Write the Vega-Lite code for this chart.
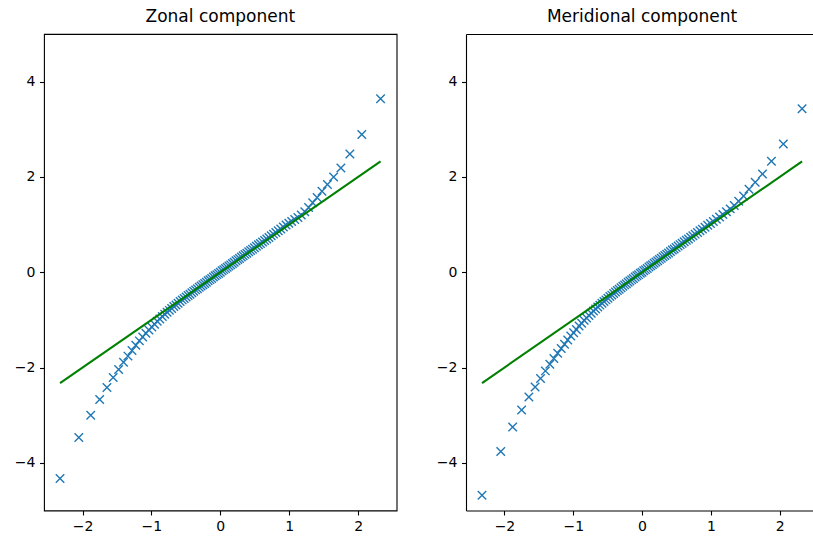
{
  "$schema": "https://vega.github.io/schema/vega-lite/v6.json",
  "background": "white",
  "padding": {"left": 13, "top": 6, "right": 0, "bottom": 0},
  "spacing": 38,
  "datasets": {
    "qq": [
      {"q": -2.3263, "zonal": -4.33, "meridional": -4.68},
      {"q": -2.0537, "zonal": -3.47, "meridional": -3.76},
      {"q": -1.8808, "zonal": -3.00, "meridional": -3.25},
      {"q": -1.7507, "zonal": -2.67, "meridional": -2.89},
      {"q": -1.6449, "zonal": -2.42, "meridional": -2.62},
      {"q": -1.5548, "zonal": -2.21, "meridional": -2.41},
      {"q": -1.4758, "zonal": -2.04, "meridional": -2.23},
      {"q": -1.4051, "zonal": -1.89, "meridional": -2.07},
      {"q": -1.3408, "zonal": -1.76, "meridional": -1.93},
      {"q": -1.2816, "zonal": -1.64, "meridional": -1.81},
      {"q": -1.2265, "zonal": -1.53, "meridional": -1.70},
      {"q": -1.1750, "zonal": -1.44, "meridional": -1.60},
      {"q": -1.1264, "zonal": -1.36, "meridional": -1.51},
      {"q": -1.0803, "zonal": -1.28, "meridional": -1.42},
      {"q": -1.0364, "zonal": -1.21, "meridional": -1.34},
      {"q": -0.9945, "zonal": -1.15, "meridional": -1.27},
      {"q": -0.9542, "zonal": -1.09, "meridional": -1.20},
      {"q": -0.9154, "zonal": -1.03, "meridional": -1.13},
      {"q": -0.8779, "zonal": -0.98, "meridional": -1.07},
      {"q": -0.8416, "zonal": -0.93, "meridional": -1.01},
      {"q": -0.8064, "zonal": -0.88, "meridional": -0.96},
      {"q": -0.7722, "zonal": -0.84, "meridional": -0.91},
      {"q": -0.7388, "zonal": -0.80, "meridional": -0.86},
      {"q": -0.7063, "zonal": -0.76, "meridional": -0.815},
      {"q": -0.6745, "zonal": -0.72, "meridional": -0.77},
      {"q": -0.6433, "zonal": -0.685, "meridional": -0.73},
      {"q": -0.6128, "zonal": -0.65, "meridional": -0.69},
      {"q": -0.5828, "zonal": -0.615, "meridional": -0.65},
      {"q": -0.5534, "zonal": -0.58, "meridional": -0.615},
      {"q": -0.5244, "zonal": -0.55, "meridional": -0.58},
      {"q": -0.4959, "zonal": -0.52, "meridional": -0.545},
      {"q": -0.4677, "zonal": -0.49, "meridional": -0.51},
      {"q": -0.4399, "zonal": -0.46, "meridional": -0.48},
      {"q": -0.4125, "zonal": -0.43, "meridional": -0.445},
      {"q": -0.3853, "zonal": -0.40, "meridional": -0.415},
      {"q": -0.3585, "zonal": -0.37, "meridional": -0.385},
      {"q": -0.3319, "zonal": -0.345, "meridional": -0.355},
      {"q": -0.3055, "zonal": -0.315, "meridional": -0.325},
      {"q": -0.2793, "zonal": -0.29, "meridional": -0.295},
      {"q": -0.2533, "zonal": -0.26, "meridional": -0.265},
      {"q": -0.2275, "zonal": -0.235, "meridional": -0.24},
      {"q": -0.2019, "zonal": -0.21, "meridional": -0.21},
      {"q": -0.1764, "zonal": -0.18, "meridional": -0.185},
      {"q": -0.1510, "zonal": -0.155, "meridional": -0.155},
      {"q": -0.1257, "zonal": -0.13, "meridional": -0.13},
      {"q": -0.1004, "zonal": -0.10, "meridional": -0.10},
      {"q": -0.0753, "zonal": -0.075, "meridional": -0.075},
      {"q": -0.0502, "zonal": -0.05, "meridional": -0.05},
      {"q": -0.0251, "zonal": -0.025, "meridional": -0.02},
      {"q": 0.0, "zonal": 0.0, "meridional": 0.0},
      {"q": 0.0251, "zonal": 0.03, "meridional": 0.03},
      {"q": 0.0502, "zonal": 0.055, "meridional": 0.055},
      {"q": 0.0753, "zonal": 0.08, "meridional": 0.08},
      {"q": 0.1004, "zonal": 0.105, "meridional": 0.11},
      {"q": 0.1257, "zonal": 0.13, "meridional": 0.135},
      {"q": 0.1510, "zonal": 0.155, "meridional": 0.16},
      {"q": 0.1764, "zonal": 0.185, "meridional": 0.19},
      {"q": 0.2019, "zonal": 0.21, "meridional": 0.215},
      {"q": 0.2275, "zonal": 0.24, "meridional": 0.24},
      {"q": 0.2533, "zonal": 0.265, "meridional": 0.27},
      {"q": 0.2793, "zonal": 0.29, "meridional": 0.295},
      {"q": 0.3055, "zonal": 0.32, "meridional": 0.325},
      {"q": 0.3319, "zonal": 0.345, "meridional": 0.35},
      {"q": 0.3585, "zonal": 0.375, "meridional": 0.38},
      {"q": 0.3853, "zonal": 0.40, "meridional": 0.405},
      {"q": 0.4125, "zonal": 0.43, "meridional": 0.435},
      {"q": 0.4399, "zonal": 0.455, "meridional": 0.465},
      {"q": 0.4677, "zonal": 0.485, "meridional": 0.49},
      {"q": 0.4959, "zonal": 0.515, "meridional": 0.52},
      {"q": 0.5244, "zonal": 0.545, "meridional": 0.55},
      {"q": 0.5534, "zonal": 0.575, "meridional": 0.58},
      {"q": 0.5828, "zonal": 0.605, "meridional": 0.61},
      {"q": 0.6128, "zonal": 0.635, "meridional": 0.64},
      {"q": 0.6433, "zonal": 0.665, "meridional": 0.67},
      {"q": 0.6745, "zonal": 0.70, "meridional": 0.70},
      {"q": 0.7063, "zonal": 0.73, "meridional": 0.735},
      {"q": 0.7388, "zonal": 0.765, "meridional": 0.765},
      {"q": 0.7722, "zonal": 0.80, "meridional": 0.80},
      {"q": 0.8064, "zonal": 0.835, "meridional": 0.835},
      {"q": 0.8416, "zonal": 0.87, "meridional": 0.87},
      {"q": 0.8779, "zonal": 0.91, "meridional": 0.905},
      {"q": 0.9154, "zonal": 0.95, "meridional": 0.945},
      {"q": 0.9542, "zonal": 0.99, "meridional": 0.985},
      {"q": 0.9945, "zonal": 1.03, "meridional": 1.025},
      {"q": 1.0364, "zonal": 1.065, "meridional": 1.065},
      {"q": 1.0803, "zonal": 1.105, "meridional": 1.11},
      {"q": 1.1264, "zonal": 1.15, "meridional": 1.16},
      {"q": 1.1750, "zonal": 1.20, "meridional": 1.21},
      {"q": 1.2265, "zonal": 1.27, "meridional": 1.27},
      {"q": 1.2816, "zonal": 1.36, "meridional": 1.33},
      {"q": 1.3408, "zonal": 1.46, "meridional": 1.40},
      {"q": 1.4051, "zonal": 1.57, "meridional": 1.49},
      {"q": 1.4758, "zonal": 1.70, "meridional": 1.60},
      {"q": 1.5548, "zonal": 1.84, "meridional": 1.74},
      {"q": 1.6449, "zonal": 2.00, "meridional": 1.89},
      {"q": 1.7507, "zonal": 2.19, "meridional": 2.06},
      {"q": 1.8808, "zonal": 2.48, "meridional": 2.33},
      {"q": 2.0537, "zonal": 2.89, "meridional": 2.69},
      {"q": 2.3263, "zonal": 3.64, "meridional": 3.43}
    ],
    "ref": [
      {"q": -2.3263, "v": -2.3263},
      {"q": 2.3263, "v": 2.3263}
    ]
  },
  "config": {
    "font": "DejaVu Sans",
    "view": {"stroke": "#000000", "strokeWidth": 1.1},
    "axis": {
      "grid": false,
      "domain": false,
      "title": null,
      "format": "d",
      "tickColor": "#000000",
      "tickSize": 4.5,
      "tickWidth": 1.1,
      "labelPadding": 4.5,
      "labelFont": "DejaVu Sans",
      "labelFontSize": 14,
      "labelColor": "#000000"
    },
    "axisY": {"minExtent": 30, "maxExtent": 30},
    "title": {
      "font": "DejaVu Sans",
      "fontSize": 17,
      "fontWeight": "normal",
      "color": "#000000",
      "baseline": "alphabetic",
      "offset": 8.5
    }
  },
  "hconcat": [
    {
      "title": {"text": "Zonal component"},
      "width": 352.6,
      "height": 476.5,
      "layer": [
        {
          "data": {"name": "qq"},
          "mark": {"type": "point", "shape": "M-1,-1L1,1M-1,1L1,-1", "size": 72, "filled": false, "stroke": "#1f77b4", "strokeWidth": 1.4, "opacity": 1},
          "encoding": {
            "x": {"field": "q", "type": "quantitative", "scale": {"domain": [-2.559, 2.559], "nice": false, "zero": false}, "axis": {"values": [-2, -1, 0, 1, 2], "format": "d"}},
            "y": {"field": "zonal", "type": "quantitative", "scale": {"domain": [-5, 5], "nice": false, "zero": false}, "axis": {"values": [-4, -2, 0, 2, 4], "format": "d"}}
          }
        },
        {
          "data": {"name": "ref"},
          "mark": {"type": "line", "color": "#008000", "strokeWidth": 2.1},
          "encoding": {
            "x": {"field": "q", "type": "quantitative"},
            "y": {"field": "v", "type": "quantitative"}
          }
        }
      ]
    },
    {
      "title": {"text": "Meridional component", "dx": 2.5},
      "width": 347,
      "height": 476.5,
      "view": {"stroke": null},
      "layer": [
        {
          "data": {"name": "qq"},
          "mark": {"type": "point", "shape": "M-1,-1L1,1M-1,1L1,-1", "size": 72, "filled": false, "stroke": "#1f77b4", "strokeWidth": 1.4, "opacity": 1},
          "encoding": {
            "x": {"field": "q", "type": "quantitative", "scale": {"domain": [-2.559, 2.485], "nice": false, "zero": false}, "axis": {"values": [-2, -1, 0, 1, 2], "format": "d", "domain": true, "domainColor": "#000000", "domainWidth": 1.1}},
            "y": {"field": "meridional", "type": "quantitative", "scale": {"domain": [-5, 5], "nice": false, "zero": false}, "axis": {"values": [-4, -2, 0, 2, 4], "format": "d", "domain": true, "domainColor": "#000000", "domainWidth": 1.1}}
          }
        },
        {
          "data": {"name": "ref"},
          "mark": {"type": "line", "color": "#008000", "strokeWidth": 2.1},
          "encoding": {
            "x": {"field": "q", "type": "quantitative", "axis": {"orient": "top", "labels": false, "ticks": false, "domain": true, "domainColor": "#000000", "domainWidth": 1.1}},
            "y": {"field": "v", "type": "quantitative"}
          }
        }
      ],
      "resolve": {"axis": {"x": "independent"}}
    }
  ]
}
